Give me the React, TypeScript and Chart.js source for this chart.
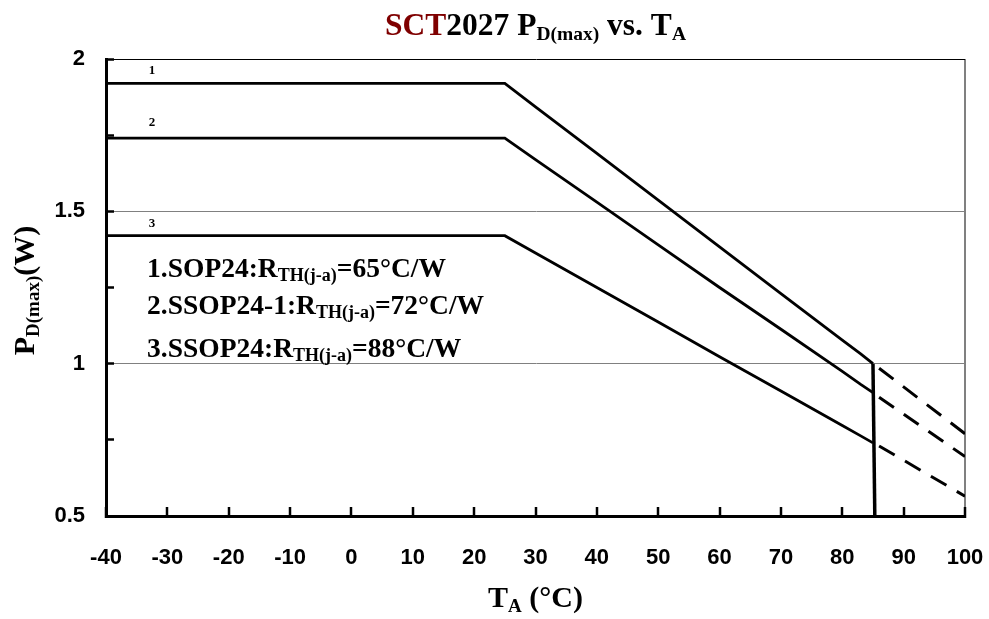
import React, { useEffect, useRef } from "react";
import { Chart, registerables } from "chart.js";

Chart.register(...registerables);

// ---- data ----
const TA = [-40, 25, 30, 40, 50, 60, 70, 80, 83, 85];
const P_SOP24 = [1.92, 1.92, 1.843, 1.69, 1.537, 1.383, 1.23, 1.077, 1.032, 1.0];
const P_SSOP24_1 = [1.74, 1.74, 1.67, 1.53, 1.39, 1.25, 1.113, 0.975, 0.932, 0.905];
const P_SSOP24 = [1.42, 1.42, 1.363, 1.25, 1.137, 1.023, 0.91, 0.797, 0.763, 0.74];

const TA_EXT = [86, 100];
const P_SOP24_EXT = [0.985, 0.77];
const P_SSOP24_1_EXT = [0.89, 0.695];
const P_SSOP24_EXT = [0.73, 0.565];

const CUTOFF_T = [85, 85.3];
const CUTOFF_P = [1.0, 0.5];

const X_MIN = -40;
const X_MAX = 100;
const X_STEP = 10;
const Y_MIN = 0.5;
const Y_MAX = 2;
const Y_STEP = 0.25;
const Y_LABEL_STEP = 0.5;

const CURVE_NUMBERS = ["1", "2", "3"];
const CURVE_NUMBER_POS = [
  [-32.5, 1.962],
  [-32.5, 1.79],
  [-32.5, 1.458],
];

const LEGEND_PREFIX = ["1.SOP24:R", "2.SSOP24-1:R", "3.SSOP24:R"];
const LEGEND_SUB = "TH(j-a)";
const LEGEND_SUFFIX = ["=65°C/W", "=72°C/W", "=88°C/W"];
const LEGEND_POS = [
  [-33.3, 1.284],
  [-33.3, 1.163],
  [-33.3, 1.021],
];

const SERIF = '"Liberation Serif", "Times New Roman", serif';
const SANS = '"Liberation Sans", Arial, sans-serif';

type Part = { text: string; size: number; color?: string; dy?: number };

function drawRich(
  ctx: CanvasRenderingContext2D,
  parts: Part[],
  x: number,
  y: number,
  align: "left" | "center"
) {
  let total = 0;
  const widths: number[] = [];
  for (const p of parts) {
    ctx.font = `bold ${p.size}px ${SERIF}`;
    const w = ctx.measureText(p.text).width;
    widths.push(w);
    total += w;
  }
  let cx = align === "center" ? x - total / 2 : x;
  ctx.textAlign = "left";
  ctx.textBaseline = "alphabetic";
  parts.forEach((p, i) => {
    ctx.font = `bold ${p.size}px ${SERIF}`;
    ctx.fillStyle = p.color || "#000";
    ctx.fillText(p.text, cx, y + (p.dy || 0));
    cx += widths[i];
  });
}

const textPlugin = {
  id: "richTexts",
  afterDraw(chart: any) {
    const ctx: CanvasRenderingContext2D = chart.ctx;
    const area = chart.chartArea;
    const xs = chart.scales.x;
    const ys = chart.scales.y;
    ctx.save();
    const midX = (area.left + area.right) / 2;
    // title
    drawRich(
      ctx,
      [
        { text: "SCT", size: 31.5, color: "#7f0000" },
        { text: "2027 P", size: 31.5 },
        { text: "D(max)", size: 19.5, dy: 5 },
        { text: " vs. T", size: 31.5 },
        { text: "A", size: 19.5, dy: 5 },
      ],
      midX,
      35,
      "center"
    );
    // x axis title
    drawRich(
      ctx,
      [
        { text: "T", size: 30 },
        { text: "A", size: 19, dy: 5 },
        { text: " (°C)", size: 30 },
      ],
      midX,
      607,
      "center"
    );
    // y axis title
    ctx.save();
    ctx.translate(34, (area.top + area.bottom) / 2 + 3);
    ctx.rotate(-Math.PI / 2);
    drawRich(
      ctx,
      [
        { text: "P", size: 30 },
        { text: "D(max)", size: 19, dy: 5 },
        { text: "(W)", size: 30 },
      ],
      0,
      0,
      "center"
    );
    ctx.restore();
    // curve numbers
    CURVE_NUMBERS.forEach((t, i) => {
      const px = xs.getPixelForValue(CURVE_NUMBER_POS[i][0]);
      const py = ys.getPixelForValue(CURVE_NUMBER_POS[i][1]);
      ctx.font = `bold 13px ${SERIF}`;
      ctx.fillStyle = "#000";
      ctx.textAlign = "center";
      ctx.textBaseline = "middle";
      ctx.fillText(t, px, py);
    });
    // legend text
    LEGEND_PREFIX.forEach((pre, i) => {
      const px = xs.getPixelForValue(LEGEND_POS[i][0]);
      const py = ys.getPixelForValue(LEGEND_POS[i][1]);
      drawRich(
        ctx,
        [
          { text: pre, size: 27.5 },
          { text: LEGEND_SUB, size: 18, dy: 4 },
          { text: LEGEND_SUFFIX[i], size: 27.5 },
        ],
        px,
        py,
        "left"
      );
    });
    ctx.restore();
  },
};

function pts(xv: number[], yv: number[]) {
  return xv.map((x, i) => ({ x, y: yv[i] }));
}

export default function App() {
  const ref = useRef<HTMLCanvasElement | null>(null);
  useEffect(() => {
    document.body.style.margin = "0";
    const canvas = ref.current;
    if (!canvas) return;
    const solid = { borderColor: "#000", borderWidth: 2.8, pointRadius: 0, fill: false, tension: 0 };
    const dashed = { ...solid, borderWidth: 3, borderDash: [18, 12] };
    const chart = new Chart(canvas, {
      type: "line",
      data: {
        datasets: [
          { label: "SOP24", data: pts(TA, P_SOP24), ...solid },
          { label: "SSOP24-1", data: pts(TA, P_SSOP24_1), ...solid },
          { label: "SSOP24", data: pts(TA, P_SSOP24), ...solid },
          { label: "cutoff", data: pts(CUTOFF_T, CUTOFF_P), ...solid, borderWidth: 3.5 },
          { label: "SOP24 ext", data: pts(TA_EXT, P_SOP24_EXT), ...dashed },
          { label: "SSOP24-1 ext", data: pts(TA_EXT, P_SSOP24_1_EXT), ...dashed },
          { label: "SSOP24 ext", data: pts(TA_EXT, P_SSOP24_EXT), ...dashed },
        ] as any,
      },
      options: {
        animation: false,
        responsive: false,
        events: [],
        layout: { padding: { left: 0, right: 24, top: 59, bottom: 0 } },
        plugins: {
          legend: { display: false },
          title: { display: false },
          tooltip: { enabled: false },
        },
        scales: {
          x: {
            type: "linear",
            min: X_MIN,
            max: X_MAX,
            afterFit: (s: any) => {
              s.height = 103;
              s.paddingLeft = 0;
              s.paddingRight = 0;
            },
            ticks: {
              stepSize: X_STEP,
              autoSkip: false,
              maxRotation: 0,
              color: "#000",
              padding: 38,
              font: { family: SANS, size: 22, weight: "bold" },
              callback: (v: any) => String(v),
            },
            grid: {
              color: (c: any) => (c.tick && c.tick.value === X_MAX ? "#808080" : "rgba(0,0,0,0)"),
              lineWidth: 2,
              tickColor: "#000",
              tickLength: -9,
              tickWidth: 2.5,
            },
            border: { color: "#000", width: 3 },
          },
          y: {
            type: "linear",
            min: Y_MIN,
            max: Y_MAX,
            afterFit: (s: any) => {
              s.width = 106;
              s.paddingTop = 0;
              s.paddingBottom = 0;
            },
            ticks: {
              stepSize: Y_STEP,
              autoSkip: false,
              color: "#000",
              padding: 29,
              font: { family: SANS, size: 22, weight: "bold" },
              callback: (v: any) =>
                Math.abs(v / Y_LABEL_STEP - Math.round(v / Y_LABEL_STEP)) < 1e-6 ? String(v) : "",
            },
            grid: {
              color: (c: any) => {
                const v = c.tick ? c.tick.value : null;
                if (v === Y_MAX) return "#000";
                if (v === 1 || v === 1.5) return "#808080";
                return "rgba(0,0,0,0)";
              },
              lineWidth: 1,
              tickColor: "#000",
              tickLength: -8,
              tickWidth: 2.5,
            },
            border: { color: "#000", width: 3 },
          },
        },
      } as any,
      plugins: [textPlugin],
    });
    return () => chart.destroy();
  }, []);
  return (
    <div style={{ width: 989, height: 619, background: "#fff" }}>
      <canvas ref={ref} width={989} height={619} style={{ width: 989, height: 619, display: "block" }} />
    </div>
  );
}
